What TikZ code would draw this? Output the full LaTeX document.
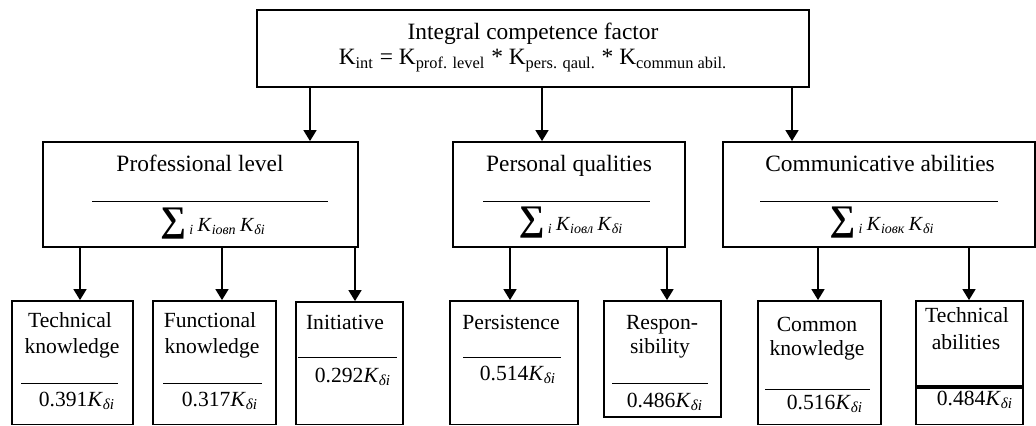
\documentclass[tikz,border=0pt]{standalone}
\usepackage{fontspec}
\setmainfont{Liberation Serif}
\usetikzlibrary{arrows.meta,fit}
\newcommand\Ksub[1]{\textit{K}\textsubscript{\itshape #1}}
\newcommand\Ssum{{\fontsize{18}{18}\selectfont\bfseries ∑}\,\textsubscript{\itshape i}\,}
\begin{document}
\begin{tikzpicture}[x=0.5pt,y=-0.5pt,
  box/.style={draw,line width=0.9pt,inner sep=0pt},
  arr/.style={line width=0.8pt,-{Triangle[length=5.5pt,width=6.5pt]}},
  rul/.style={line width=0.5pt},
  big/.style={anchor=base,inner sep=0pt,font=\fontsize{11.7}{14}\selectfont},
  mid/.style={anchor=base,inner sep=0pt,font=\fontsize{10}{12}\selectfont},
  sml/.style={anchor=base,inner sep=0pt,font=\fontsize{10.8}{13}\selectfont}]
\useasboundingbox (0,0) rectangle (1036,426);
% boxes
\node[box,fit={(257,10) (809,87)}] (top) {};
\node[box,fit={(43,142) (358,247)}] (prof) {};
\node[box,fit={(453,142) (685,247)}] (pers) {};
\node[box,fit={(723,142) (1035,247)}] (comm) {};
\node[box,fit={(12,301) (133,424.5)}] (tk) {};
\node[box,fit={(153,301) (276,424.5)}] (fk) {};
\node[box,fit={(296,302) (403,424.5)}] (ini) {};
\node[box,fit={(450,301) (578,424.5)}] (pst) {};
\node[box,fit={(604,301) (721,417)}] (rsp) {};
\node[box,fit={(758,301) (881,424.5)}] (ck) {};
\node[box,fit={(916,301) (1023,424.5)}] (ta) {};
% top texts
\node[big] (t1) at (533,40) {Integral competence factor};
\node[big] (t2) at (533,65) {K\textsubscript{int} = K\textsubscript{prof. level} * K\textsubscript{pers. qaul.} * K\textsubscript{commun abil.}};
% middle texts
\node[big] (p1) at (200,172) {Professional level};
\draw[rul] (92,202) -- (328,202);
\node[mid] (p2) at (213,232) {\Ssum\Ksub{іовп}\,\Ksub{δі}};
\node[big] (q1) at (569,172) {Personal qualities};
\draw[rul] (483,202) -- (650,202);
\node[mid] (q2) at (571,231) {\Ssum\Ksub{іовл}\,\Ksub{δі}};
\node[big] (c1) at (880,172) {Communicative abilities};
\draw[rul] (760,202) -- (998,202);
\node[mid] (c2) at (882,231) {\Ssum\Ksub{іовк}\,\Ksub{δі}};
% bottom texts
\node[sml] (tk1) at (70,328) {Technical};
\node[sml] (tk2) at (72,353) {knowledge};
\draw[rul] (21,383) -- (118,383);
\node[sml] (tk3) at (77,406) {0.391\Ksub{δі}};
\node[sml] (fk1) at (210,328) {Functional};
\node[sml] (fk2) at (212,353) {knowledge};
\draw[rul] (163,383) -- (262,383);
\node[sml] (fk3) at (220,406) {0.317\Ksub{δі}};
\node[sml] (in1) at (345,330) {Initiative};
\draw[rul] (298,358) -- (397,358);
\node[sml] (in2) at (353,382) {0.292\Ksub{δі}};
\node[sml] (ps1) at (511,329) {Persistence};
\draw[rul] (463,358) -- (561,358);
\node[sml] (ps2) at (518,380) {0.514\Ksub{δі}};
\node[sml] (rs1) at (662,329) {Respon-};
\node[sml] (rs2) at (660,353) {sibility};
\draw[rul] (612,383) -- (708,383);
\node[sml] (rs3) at (665,407) {0.486\Ksub{δі}};
\node[sml] (ck1) at (817,332) {Common};
\node[sml] (ck2) at (817,356) {knowledge};
\draw[rul] (765,389) -- (870,389);
\node[sml] (ck3) at (825,409) {0.516\Ksub{δі}};
\node[sml] (ta1) at (967,323) {Technical};
\node[sml] (ta2) at (966,350) {abilities};
\draw[line width=1.6pt] (ta.west |- 0,387) -- (ta.east |- 0,387);
\node[sml] (ta3) at (975,405) {0.484\Ksub{δі}};
% arrow x positions
\coordinate (x1) at (310,0);
\coordinate (x2) at (542,0);
\coordinate (x3) at (792,0);
\coordinate (y1) at (80,0);
\coordinate (y2) at (222,0);
\coordinate (y3) at (355,0);
\coordinate (y4) at (510,0);
\coordinate (y5) at (667,0);
\coordinate (y6) at (818,0);
\coordinate (y7) at (969,0);
% connectors
\draw[arr] (top.south -| x1) -- (prof.north -| x1);
\draw[arr] (top.south -| x2) -- (pers.north -| x2);
\draw[arr] (top.south -| x3) -- (comm.north -| x3);
\draw[arr] (prof.south -| y1) -- (tk.north -| y1);
\draw[arr] (prof.south -| y2) -- (fk.north -| y2);
\draw[arr] (prof.south -| y3) -- (ini.north -| y3);
\draw[arr] (pers.south -| y4) -- (pst.north -| y4);
\draw[arr] (pers.south -| y5) -- (rsp.north -| y5);
\draw[arr] (comm.south -| y6) -- (ck.north -| y6);
\draw[arr] (comm.south -| y7) -- (ta.north -| y7);
\end{tikzpicture}
\end{document}
